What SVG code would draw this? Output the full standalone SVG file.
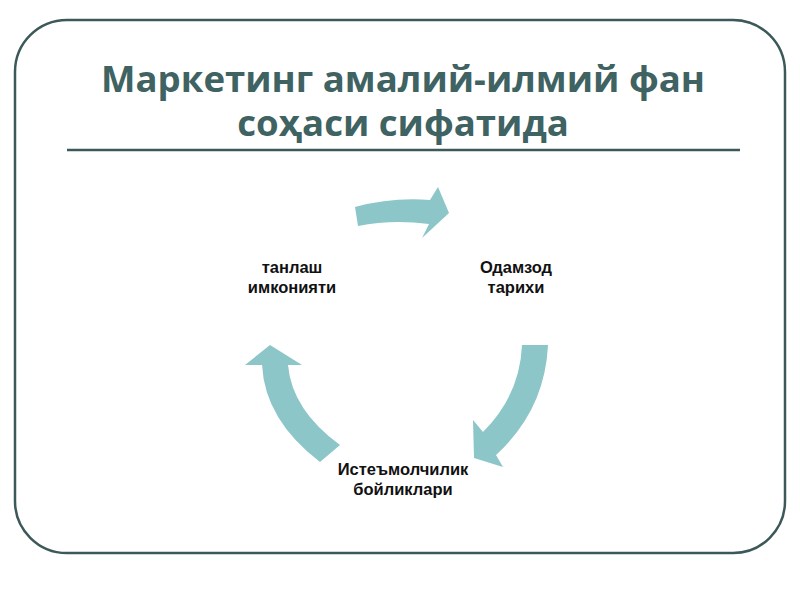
<svg xmlns="http://www.w3.org/2000/svg" width="800" height="600" viewBox="0 0 800 600">
<style>
.title{font-family:"Open Sans","Liberation Sans",sans-serif;font-weight:bold;font-size:36.6px;fill:#3f6262;text-anchor:middle}
.lbl{font-family:"Liberation Sans",Arial,sans-serif;font-weight:bold;font-size:16.5px;fill:#111;text-anchor:middle}
.arrow{fill:#8cc6c8}
</style>
<rect width="800" height="600" fill="#ffffff"/>
<rect x="15" y="20" width="770" height="533" rx="52" ry="52" fill="none" stroke="#3d5858" stroke-width="2.5"/>
<g id="title">
<text class="title"><tspan x="403" y="92">Маркетинг амалий-илмий фан</tspan><tspan x="403" y="136">соҳаси сифатида</tspan></text>
<line x1="67" y1="150" x2="740" y2="150" stroke="#3d5858" stroke-width="2.5"/>
</g>
<g id="connectors">
<path class="arrow" d="M355,207 Q392,197 430,200 L438,187 L449,213 L422,238 L429,224 Q392,219 358,226 Z"/>
<path class="arrow" d="M522,345 L548,345 Q545,410 496,455 L503,467 L474,458 L473,420 L483,432 Q520,395 522,345 Z"/>
<path class="arrow" d="M270,345 L302,365 L288,365 Q292,410 340,445 L320,462 Q265,420 262,365 L245,365 Z"/>
</g>
<g id="node-tanlash">
<text class="lbl" x="292" y="273">танлаш</text>
<text class="lbl" x="292" y="293">имконияти</text>
</g>
<g id="node-odamzod">
<text class="lbl" x="516" y="273">Одамзод</text>
<text class="lbl" x="516" y="293">тарихи</text>
</g>
<g id="node-isteomolchilik">
<text class="lbl" x="403" y="475">Истеъмолчилик</text>
<text class="lbl" x="403" y="495">бойликлари</text>
</g>
</svg>
